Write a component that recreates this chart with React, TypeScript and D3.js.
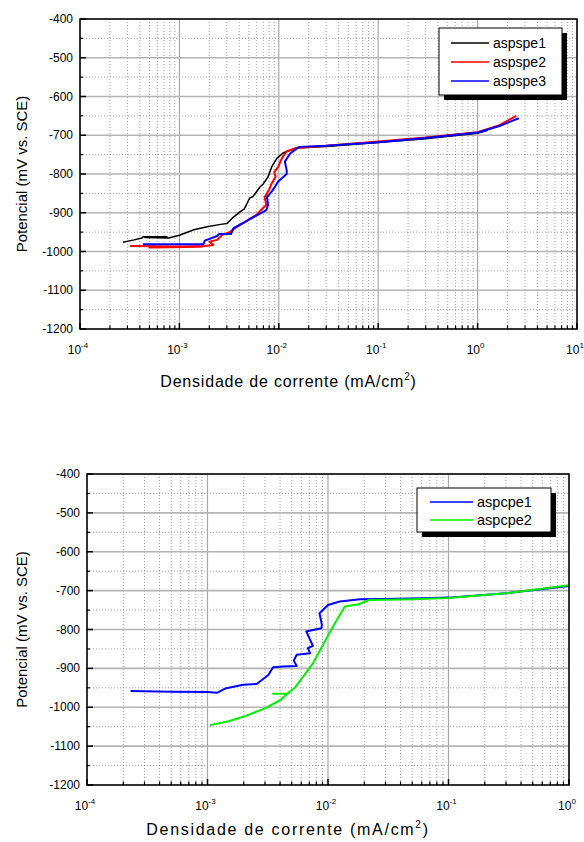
import React from "react";
import * as d3 from "d3";

// ---------- Data (current density mA/cm², potential mV vs SCE) ----------
const aspspe1: [number, number][] = [
  [2.7e-4, -976], [3.5e-4, -970], [4.2e-4, -965], [4.3e-4, -962], [7.5e-4, -962], [4.5e-4, -964],
  [7.8e-4, -965], [1.0e-3, -958], [1.4e-3, -944], [1.9e-3, -936], [2.6e-3, -930], [3.0e-3, -928],
  [3.4e-3, -914], [4.1e-3, -897], [4.5e-3, -890], [5.1e-3, -862], [5.5e-3, -858], [6.5e-3, -833],
  [7.0e-3, -825], [7.8e-3, -807], [8.5e-3, -781], [9.6e-3, -759], [1.1e-2, -746], [1.5e-2, -733],
  [3e-2, -729], [1e-1, -719], [3e-1, -709], [1.0, -695], [1.27, -687],
];
const aspspe2: [number, number][] = [
  [3.2e-4, -986], [1.7e-3, -988], [5e-4, -990], [1.8e-3, -986], [2.2e-3, -983], [2.0e-3, -975],
  [2.4e-3, -970], [2.7e-3, -957], [3.2e-3, -950], [3.8e-3, -936], [4.5e-3, -925], [5.1e-3, -916],
  [6.0e-3, -905], [6.5e-3, -895], [7.5e-3, -880], [7.2e-3, -860], [8.0e-3, -840], [8.5e-3, -824],
  [9.3e-3, -807], [9.0e-3, -795], [9.9e-3, -781], [1.05e-2, -765], [1.1e-2, -755], [1.2e-2, -742],
  [1.5e-2, -733], [3e-2, -727], [1e-1, -716], [3e-1, -706], [1.0, -692], [1.66, -674], [2.45, -650],
];
const aspspe3: [number, number][] = [
  [4.3e-4, -981], [1.75e-3, -981], [1.8e-3, -972], [2.4e-3, -960], [2.5e-3, -955], [3.3e-3, -955],
  [3.5e-3, -940], [4.5e-3, -925], [5.5e-3, -912], [7.5e-3, -893], [7.8e-3, -880], [7.6e-3, -860],
  [8.5e-3, -845], [9.0e-3, -836], [9.8e-3, -820], [1.2e-2, -800], [1.2e-2, -790], [1.15e-2, -768],
  [1.3e-2, -747], [1.6e-2, -730], [3e-2, -727], [1e-1, -718], [3e-1, -707], [1.0, -693],
  [1.66, -676], [2.6, -656],
];
const aspcpe1: [number, number][] = [
  [2.3e-4, -958], [5e-4, -960], [1.0e-3, -961], [1.2e-3, -963], [1.4e-3, -952], [1.98e-3, -942],
  [2.56e-3, -940], [3.2e-3, -917], [3.5e-3, -897], [4.2e-3, -895], [5.5e-3, -894], [5.2e-3, -880],
  [5.5e-3, -865], [7.1e-3, -861], [6.8e-3, -848], [7.5e-3, -842], [6.6e-3, -805], [8.8e-3, -797],
  [8.9e-3, -788], [8.5e-3, -758], [1.0e-2, -737], [1.25e-2, -728], [1.85e-2, -722], [5e-2, -720],
  [1e-1, -718], [3e-1, -707], [1.0, -688],
];
const aspcpe2: [number, number][] = [
  [1.05e-3, -1046], [1.5e-3, -1036], [2.0e-3, -1024], [3.0e-3, -1003], [4.0e-3, -982], [4.6e-3, -965],
  [3.5e-3, -965], [4.6e-3, -965], [5.3e-3, -950], [7.5e-3, -887], [1.1e-2, -792], [1.38e-2, -741],
  [1.8e-2, -735], [2.2e-2, -724], [5e-2, -722], [1e-1, -719], [3e-1, -707], [1.0, -686],
];

const yTicks = [-400, -500, -600, -700, -800, -900, -1000, -1100, -1200];
const topDecades = [-4, -3, -2, -1, 0, 1];
const bottomDecades = [-4, -3, -2, -1, 0];
const topSeries = [
  { name: "aspspe1", data: aspspe1, color: "#000000" },
  { name: "aspspe2", data: aspspe2, color: "#ff0000" },
  { name: "aspspe3", data: aspspe3, color: "#0000ff" },
];
const bottomSeries = [
  { name: "aspcpe1", data: aspcpe1, color: "#0000ff" },
  { name: "aspcpe2", data: aspcpe2, color: "#00ee00" },
];

const FONT = "Liberation Sans, Arial, sans-serif";

type Cfg = {
  x0: number; x1: number; y0: number; y1: number;
  decades: number[];
  series: { name: string; data: [number, number][]; color: string }[];
  legend: { x: number; y: number; w: number; h: number; lineX0: number; lineX1: number; textX: number; rowY: number[]; fs: number };
  xTitleY: number; xTitleSpacing: number; yTitleX: number;
};

function Chart({ c }: { c: Cfg }) {
  const dmin = c.decades[0];
  const dmax = c.decades[c.decades.length - 1];
  const x = d3.scaleLog().domain([Math.pow(10, dmin), Math.pow(10, dmax)]).range([c.x0, c.x1]);
  const y = d3.scaleLinear().domain([-1200, -400]).range([c.y1, c.y0]);
  const line = d3.line<[number, number]>().x((d) => x(d[0])).y((d) => y(d[1]));

  const minorX: number[] = [];
  for (let d = dmin; d < dmax; d++) for (let k = 2; k <= 9; k++) minorX.push(k * Math.pow(10, d));
  const minorY: number[] = [];
  for (let v = -1150; v <= -450; v += 100) minorY.push(v);

  return (
    <g>
      {minorX.map((v, i) => (
        <line key={"mx" + i} x1={x(v)} x2={x(v)} y1={c.y0} y2={c.y1} stroke="#8c8c8c" strokeWidth={0.8} strokeDasharray="1,2" />
      ))}
      {minorY.map((v, i) => (
        <line key={"my" + i} x1={c.x0} x2={c.x1} y1={y(v)} y2={y(v)} stroke="#8c8c8c" strokeWidth={0.8} strokeDasharray="1,2" />
      ))}
      {c.decades.map((d, i) => (
        <line key={"Mx" + i} x1={x(Math.pow(10, d))} x2={x(Math.pow(10, d))} y1={c.y0} y2={c.y1} stroke="#a8a8a8" strokeWidth={1.2} />
      ))}
      {yTicks.map((v, i) => (
        <line key={"My" + i} x1={c.x0} x2={c.x1} y1={y(v)} y2={y(v)} stroke="#b4b4b4" strokeWidth={1.6} />
      ))}
      {c.series.map((s) => (
        <path key={s.name} d={line(s.data) || ""} fill="none" stroke={s.color} strokeWidth={s.color === "#000000" ? 1.5 : 2} strokeLinejoin="round" />
      ))}
      <rect x={c.x0} y={c.y0} width={c.x1 - c.x0} height={c.y1 - c.y0} fill="none" stroke="#000" strokeWidth={1.5} />
      {yTicks.map((v, i) => (
        <line key={"ty" + i} x1={c.x0} x2={c.x0 + 6} y1={y(v)} y2={y(v)} stroke="#000" strokeWidth={1.5} />
      ))}
      {minorY.map((v, i) => (
        <line key={"tmy" + i} x1={c.x0} x2={c.x0 + 3} y1={y(v)} y2={y(v)} stroke="#000" strokeWidth={1.2} />
      ))}
      {c.decades.map((d, i) => (
        <line key={"tx" + i} x1={x(Math.pow(10, d))} x2={x(Math.pow(10, d))} y1={c.y1} y2={c.y1 - 6} stroke="#000" strokeWidth={1.5} />
      ))}
      {minorX.map((v, i) => (
        <line key={"tmx" + i} x1={x(v)} x2={x(v)} y1={c.y1} y2={c.y1 - 3.5} stroke="#000" strokeWidth={1.2} />
      ))}
      {yTicks.map((v, i) => (
        <text key={"ly" + i} x={c.x0 - 7} y={y(v) + 4} textAnchor="end" fontSize={12} fontFamily={FONT}>
          {v}
        </text>
      ))}
      {c.decades.map((d, i) => (
        <text key={"lx" + i} x={x(Math.pow(10, d)) - 2} y={c.y1 + 25} textAnchor="middle" fontSize={12} fontFamily={FONT}>
          10<tspan fontSize={8} dy={-6}>{d}</tspan>
        </text>
      ))}
      <text x={(c.x0 + c.x1) / 2 - 40} y={c.xTitleY} textAnchor="middle" fontSize={16} fontFamily={FONT} letterSpacing={c.xTitleSpacing}>
        Densidade de corrente (mA/cm<tspan fontSize={10} dy={-7}>2</tspan><tspan dy={7}>)</tspan>
      </text>
      <text transform={`translate(${c.yTitleX},${(c.y0 + c.y1) / 2}) rotate(-90)`} textAnchor="middle" fontSize={15} fontFamily={FONT}>
        Potencial (mV vs. SCE)
      </text>
      <rect x={c.legend.x + 5} y={c.legend.y + 5} width={c.legend.w} height={c.legend.h} fill="#000" />
      <rect x={c.legend.x} y={c.legend.y} width={c.legend.w} height={c.legend.h} fill="#fff" stroke="#000" strokeWidth={1} />
      {c.series.map((s, i) => (
        <g key={"lg" + i}>
          <line x1={c.legend.lineX0} x2={c.legend.lineX1} y1={c.legend.rowY[i]} y2={c.legend.rowY[i]} stroke={s.color} strokeWidth={1.5} />
          <text x={c.legend.textX} y={c.legend.rowY[i] + 5} fontSize={c.legend.fs} fontFamily={FONT}>
            {s.name}
          </text>
        </g>
      ))}
    </g>
  );
}

export default function App() {
  const top: Cfg = {
    x0: 80, x1: 577, y0: 19, y1: 329,
    decades: topDecades,
    series: topSeries,
    legend: { x: 439, y: 28, w: 123, h: 67, lineX0: 451, lineX1: 489, textX: 493, rowY: [43, 62, 81], fs: 14 },
    xTitleY: 387, xTitleSpacing: 0.8, yTitleX: 27,
  };
  const bottom: Cfg = {
    x0: 87, x1: 569, y0: 474, y1: 785,
    decades: bottomDecades,
    series: bottomSeries,
    legend: { x: 417, y: 488, w: 134, h: 44, lineX0: 430, lineX1: 473, textX: 477, rowY: [502, 520], fs: 14.5 },
    xTitleY: 835, xTitleSpacing: 1.7, yTitleX: 27,
  };
  return (
    <svg width={584} height={842} style={{ position: "absolute", left: 0, top: 0, background: "#fff" }}>
      <rect width={584} height={842} fill="#fff" />
      <Chart c={top} />
      <Chart c={bottom} />
    </svg>
  );
}
